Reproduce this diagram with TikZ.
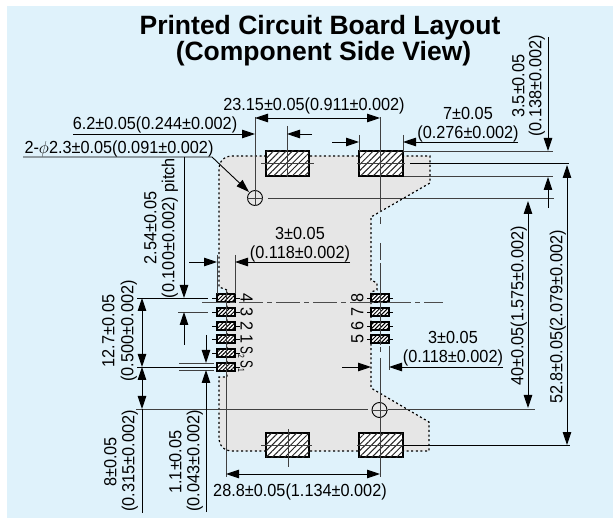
\documentclass[tikz,border=0pt]{standalone}
\usepackage{fontspec}
\setmainfont{Liberation Sans}
\newfontfamily\dimfont[FakeStretch=0.93]{Liberation Sans}
\usetikzlibrary{arrows.meta,patterns.meta}
\definecolor{panelblue}{HTML}{DFF2FB}
\definecolor{boardgray}{HTML}{E6E6E6}
\newcommand{\padS}[1]{\scalebox{0.72}[1]{S}\raisebox{-2.5pt}{\fontsize{9}{9}\selectfont\scalebox{0.8}[1]{#1}}}
\tikzset{
  dimline/.style={line width=0.9pt,black,>={Triangle[length=13pt,width=8.5pt]}},
  extline/.style={line width=0.9pt,black!75},
  centerline/.style={line width=1pt,black!70,dash pattern=on 24pt off 4pt on 5pt off 4pt},
  dimlabel/.style={inner sep=0pt,text height=12.6pt,text depth=0pt,font=\dimfont\fontsize{17.5}{20}\selectfont},
  titlelabel/.style={inner sep=0pt,anchor=base,font=\fontsize{26.5}{28}\selectfont\bfseries},
  padbig/.style={draw=black,line width=1.2pt,fill=white,postaction={pattern={Lines[angle=45,distance=4.4pt,line width=1pt]},pattern color=black!85}},
  padsmall/.style={draw=black,line width=1.2pt,fill=white,postaction={pattern={Lines[angle=45,distance=2.8pt,line width=1pt]},pattern color=black}},
  hole/.style={circle,draw=black,line width=0.9pt,minimum size=15pt,inner sep=0pt}
}
\begin{document}
\begin{tikzpicture}[x=1pt,y=-1pt]
  \useasboundingbox (0,0) rectangle (613,518);
  \fill[panelblue] (7,6) rectangle (612.5,518);

  \node[titlelabel] (title1) at (320,35) {Printed Circuit Board Layout};
  \node[titlelabel] (title2) at (323.5,61) {(Component Side View)};

  % board
  \draw[fill=boardgray,draw=black,line width=1.2pt,dash pattern=on 2pt off 2.6pt]
    (227,290) -- (219,287) [rounded corners=12pt] -- (219,156) [sharp corners] -- (430,156) -- (430,183) -- (371,217)
    -- (371,280) -- (377,283) -- (377,290) -- (371,292) -- (371,388) -- (429,422) -- (429,451)
    [rounded corners=12pt] -- (219,451) [sharp corners] -- (219,377) -- (227,377) -- cycle;

  % pads
  \draw[padbig] (266,151) rectangle (309,176);
  \draw[padbig] (359,151) rectangle (403,176);
  \draw[padbig] (266,433) rectangle (309,457);
  \draw[padbig] (359,433) rectangle (403,457);
  \foreach \ypad in {298,312,326,339,353,367} {
    \draw[padsmall] (217,\ypad-4) rectangle (235,\ypad+4);
    \draw[line width=0.8pt] (212,\ypad) -- (217,\ypad) (235,\ypad) -- (240,\ypad);
  }
  \foreach \ypad in {298,312,326,339} {
    \draw[padsmall] (371,\ypad-4) rectangle (389,\ypad+4);
    \draw[line width=0.8pt] (367,\ypad) -- (371,\ypad) (389,\ypad) -- (393,\ypad);
  }
  \foreach \lab/\ypad in {4/298,3/312,2/326,1/339}
    \node[dimlabel,rotate=-90] (pin\ypad) at (247,\ypad) {\lab};
  \node[dimlabel,rotate=-90] (pinS2) at (247,352.5) {\padS{2}};
  \node[dimlabel,rotate=-90] (pinS1) at (247,366.5) {\padS{1}};
  \foreach \lab/\ypad in {8/298,7/312,6/326,5/339}
    \node[dimlabel,rotate=90] (pinb\ypad) at (357,\ypad) {\lab};

  % center lines
  \draw[centerline] (202,303) -- (443,303);
  \draw[extline] (226,290) -- (226,376);
  \draw[extline] (380,212) -- (380,117) (380,270) -- (380,345);
  \draw[extline] (380,217) -- (380,224) (380,243) -- (380,260) (380,263) -- (380,270) (380,347) -- (380,352) (380,358) -- (380,402);
  \draw[extline] (287,126) -- (287,177) (288,429) -- (288,467);
  \draw[extline] (261,163) -- (314,163) (357,163) -- (405,163) (261,445) -- (312,445) (357,445) -- (403,445);
  \draw[extline] (255,117) -- (255,206);

  \node[hole] (holeA) at (255,198) {};
  \node[hole] (holeB) at (379.5,410) {};
  \draw[extline] (255,190) -- (255,206) (247,198) -- (263,198);
  \draw[extline] (380,402) -- (380,477) (372,410) -- (388,410);

  % extension lines
  \draw[extline] (268,198) -- (554,198);
  \draw[extline] (403,151) -- (553,151) (404,176) -- (553,176);
  \draw[dimline] (410,163) -- (569,163);
  \draw[extline] (136,409) -- (368,409) (388,409) -- (535,409);
  \draw[dimline] (403,445) -- (570,445);
  \draw[dimline] (137,298) -- (208,298);
  \draw[extline] (178,312) -- (208,312);
  \draw[extline] (179,363) -- (214,363) (179,370) -- (214,370);
  \draw[dimline] (137,367) -- (214,367);
  \draw[extline] (217,255) -- (217,294) (235,255) -- (235,294);
  \draw[extline] (359,135) -- (359,151) (403,135) -- (403,151);
  \draw[extline] (389,346) -- (389,370);

  % dimensions
  \draw[dimline,<->] (255,118) -- (380,118);
  \node[dimlabel] (d23) at (314,104) {23.15±0.05(0.911±0.002)};

  \draw[dimline,->] (73,134) -- (255,134);
  \draw[dimline,->] (312,134) -- (287,134);
  \node[dimlabel] (d62) at (155,123) {6.2±0.05(0.244±0.002)};

  \draw[dimline,->] (23,157) -- (212,157) -- (249,192);
  \node[dimlabel] (d23phi) at (119,147) {2-$\phi$2.3±0.05(0.091±0.002)};

  \draw[dimline,->] (332,142) -- (359,142);
  \draw[dimline,->] (518,142) -- (403,142);
  \node[dimlabel] (d7a) at (468,113) {7±0.05};
  \node[dimlabel] (d7b) at (468,132) {(0.276±0.002)};

  \draw[dimline,->] (548,37) -- (548,151);
  \draw[dimline,->] (548,208) -- (548,177);
  \node[dimlabel,rotate=90] (d35a) at (518,86) {3.5±0.05};
  \node[dimlabel,rotate=90] (d35b) at (535,86) {(0.138±0.002)};

  \draw[dimline,<->] (528,201) -- (528,408);
  \node[dimlabel,rotate=90] (d40) at (517,306) {40±0.05(1.575±0.002)};

  \draw[dimline,<->] (567,165) -- (567,445);
  \node[dimlabel,rotate=90] (d52) at (556,317) {52.8±0.05(2.079±0.002)};

  \draw[dimline,->] (189,262) -- (217,262);
  \draw[dimline,->] (350,262) -- (235,262);
  \node[dimlabel] (d3a) at (300,233) {3±0.05};
  \node[dimlabel] (d3b) at (300,252) {(0.118±0.002)};

  \draw[dimline,->] (342,367) -- (371,367);
  \draw[dimline,->] (503,367) -- (389,367);
  \node[dimlabel] (d3c) at (453,337) {3±0.05};
  \node[dimlabel] (d3d) at (453,356) {(0.118±0.002)};

  \draw[dimline,->] (184,157) -- (184,298);
  \draw[dimline,->] (184,345) -- (184,312);
  \node[dimlabel,rotate=90] (d254a) at (150,228) {2.54±0.05};
  \node[dimlabel,rotate=90] (d254b) at (168,228) {(0.100±0.002) pitch};

  \draw[dimline,<->] (142,298) -- (142,367);
  \node[dimlabel,rotate=90] (d127a) at (108,331) {12.7±0.05};
  \node[dimlabel,rotate=90] (d127b) at (127,331) {(0.500±0.002)};

  \draw[dimline,<->] (142,367) -- (142,409);
  \draw[dimline] (142,409) -- (142,513);
  \node[dimlabel,rotate=90] (d8a) at (110,462) {8±0.05};
  \node[dimlabel,rotate=90] (d8b) at (128,461) {(0.315±0.002)};

  \draw[dimline,->] (206,335) -- (206,363);
  \draw[dimline,->] (206,512) -- (206,370);
  \node[dimlabel,rotate=90] (d11a) at (175,462) {1.1±0.05};
  \node[dimlabel,rotate=90] (d11b) at (193,461) {(0.043±0.002)};

  \draw[extline] (226,376) -- (226,477);
  \draw[dimline,<->] (226,474) -- (380,474);
  \node[dimlabel] (d28) at (300,490) {28.8±0.05(1.134±0.002)};
\end{tikzpicture}
\end{document}
